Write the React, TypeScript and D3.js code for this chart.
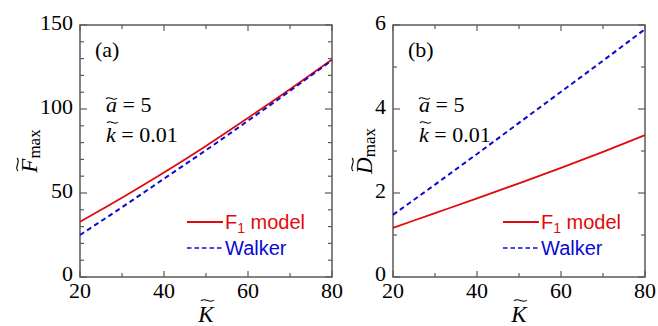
import React from "react";
import * as d3 from "d3";

// K~ values (x axis) shared by both panels
const kValues = [20, 30, 40, 50, 60, 70, 80];

// panel (a): F~max
const fModelF = [32.9, 47.2, 62.2, 78, 94.7, 111.8, 129.5];
const fWalker = [25, 41.5, 58.5, 75.5, 93, 110.8, 129];

// panel (b): D~max
const dModelF = [1.17, 1.52, 1.87, 2.23, 2.6, 2.98, 3.38];
const dWalker = [1.48, 2.2, 2.93, 3.67, 4.41, 5.15, 5.9];

const xTickLabels = [20, 40, 60, 80];
const legendLabels = ["F", "Walker"];

const RED = "#e10a0a";
const BLUE = "#0a0ad2";
const AXIS = "#5a5a5a";
const SERIF = "'Liberation Serif', 'Times New Roman', Times, serif";
const SANS = "'Liberation Sans', Arial, sans-serif";

const top = 25;
const bottom = 277;

// wavy accent drawn above a letter
const Tilde = ({ x, y, w }: { x: number; y: number; w: number }) => (
  <path
    d={`M${x},${y + 2} C${x + w * 0.3},${y - 2.2} ${x + w * 0.7},${y + 5.2} ${x + w},${y + 1}`}
    fill="none"
    stroke="#000"
    strokeWidth={1.1}
  />
);

type PanelProps = {
  left: number;
  right: number;
  yMax: number;
  yMajor: number;
  yMinor: number;
  model: number[];
  walker: number[];
  tag: string;
  yLetter: string;
  labelX: number;
  legendX: number;
};

const Panel = ({ left, right, yMax, yMajor, yMinor, model, walker, tag, yLetter, labelX, legendX }: PanelProps) => {
  const x = d3.scaleLinear().domain([20, 80]).range([left, right]);
  const y = d3.scaleLinear().domain([0, yMax]).range([bottom, top]);
  const line = d3
    .line<number>()
    .x((_, i) => x(kValues[i]))
    .y((d) => y(d))
    .curve(d3.curveMonotoneX);

  const xTicks = d3.range(20, 81, 10);
  const yTicks = d3.range(0, yMax + 1e-9, yMinor);
  const isMajorY = (v: number) => Math.abs(v / yMajor - Math.round(v / yMajor)) < 1e-6;
  const cy = (top + bottom) / 2;

  return (
    <g>
      {/* ticks, inward on all four sides */}
      {xTicks.map((t) => {
        const len = t % 20 === 0 ? 6 : 4;
        return (
          <g key={"x" + t} stroke={AXIS} strokeWidth={1.2}>
            <line x1={x(t)} x2={x(t)} y1={bottom} y2={bottom - len} />
            <line x1={x(t)} x2={x(t)} y1={top} y2={top + len} />
          </g>
        );
      })}
      {yTicks.map((t) => {
        const len = isMajorY(t) ? 7 : 4;
        return (
          <g key={"y" + t} stroke={AXIS} strokeWidth={1.2}>
            <line x1={left} x2={left + len} y1={y(t)} y2={y(t)} />
            <line x1={right} x2={right - len} y1={y(t)} y2={y(t)} />
          </g>
        );
      })}
      <rect x={left} y={top} width={right - left} height={bottom - top} fill="none" stroke={AXIS} strokeWidth={1.5} />

      {/* tick labels */}
      {xTickLabels.map((t) => (
        <text key={"xl" + t} x={x(t)} y={298} textAnchor="middle" fontFamily={SERIF} fontSize={22}>
          {t}
        </text>
      ))}
      {yTicks.filter(isMajorY).map((t) => (
        <text key={"yl" + t} x={left - 7} y={y(t) + (t === 0 ? 4 : 5)} textAnchor="end" fontFamily={SERIF} fontSize={22}>
          {t}
        </text>
      ))}

      {/* series */}
      <path d={line(model) ?? ""} fill="none" stroke={RED} strokeWidth={1.8} />
      <path d={line(walker) ?? ""} fill="none" stroke={BLUE} strokeWidth={2} strokeDasharray="5,3.5" />

      {/* panel tag and parameters */}
      <text x={left + 15} y={57} fontFamily={SERIF} fontSize={22}>
        {tag}
      </text>
      <text x={left + 26} y={112} fontFamily={SERIF} fontSize={22}>
        <tspan fontStyle="italic">a</tspan>
        <tspan> = 5</tspan>
      </text>
      <Tilde x={left + 26} y={97} w={11} />
      <text x={left + 26} y={142} fontFamily={SERIF} fontSize={22}>
        <tspan fontStyle="italic">k</tspan>
        <tspan> = 0.01</tspan>
      </text>
      <Tilde x={left + 27} y={121} w={11} />

      {/* axis titles */}
      <g transform={`translate(${labelX},${cy}) rotate(-90)`}>
        <text x={0} y={0} textAnchor="middle" fontFamily={SERIF} fontSize={23}>
          <tspan fontStyle="italic">{yLetter}</tspan>
          <tspan fontSize={17} dy={3}>max</tspan>
        </text>
        <Tilde x={-20} y={-21} w={13} />
      </g>
      <text x={(left + right) / 2} y={322} textAnchor="middle" fontFamily={SERIF} fontSize={23} fontStyle="italic">
        K
      </text>
      <Tilde x={(left + right) / 2 - 5} y={299} w={13} />

      {/* legend */}
      <line x1={legendX} x2={legendX + 36} y1={222} y2={222} stroke={RED} strokeWidth={1.8} />
      <text x={legendX + 38} y={229} fontFamily={SANS} fontSize={20} fill={RED}>
        {legendLabels[0]}
        <tspan fontSize={14} dy={4}>1</tspan>
        <tspan dy={-4}> model</tspan>
      </text>
      <line x1={legendX} x2={legendX + 36} y1={248} y2={248} stroke={BLUE} strokeWidth={1.5} strokeDasharray="4.5,3" />
      <text x={legendX + 38} y={255} fontFamily={SANS} fontSize={20} fill={BLUE}>
        {legendLabels[1]}
      </text>
    </g>
  );
};

export default function App() {
  return (
    <svg width={658} height={326} style={{ position: "absolute", left: 0, top: 0, background: "#fff" }}>
      <Panel
        left={80}
        right={332}
        yMax={150}
        yMajor={50}
        yMinor={10}
        model={fModelF}
        walker={fWalker}
        tag="(a)"
        yLetter="F"
        labelX={37}
        legendX={187}
      />
      <Panel
        left={393}
        right={645}
        yMax={6}
        yMajor={2}
        yMinor={1}
        model={dModelF}
        walker={dWalker}
        tag="(b)"
        yLetter="D"
        labelX={372}
        legendX={503}
      />
    </svg>
  );
}
